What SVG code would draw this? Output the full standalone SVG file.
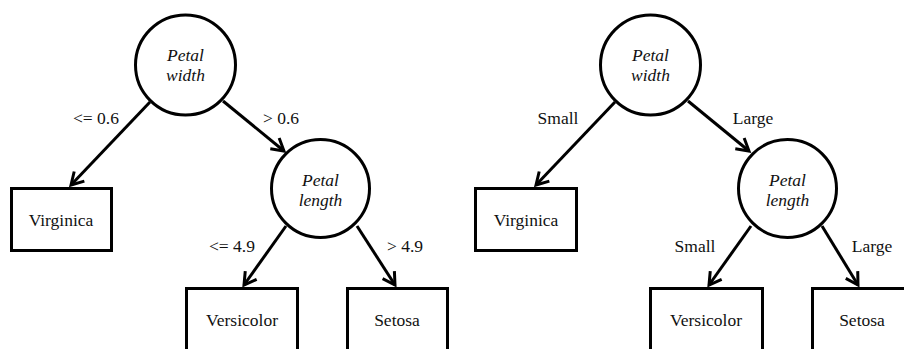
<svg xmlns="http://www.w3.org/2000/svg" width="904" height="349" viewBox="0 0 904 349">
<style>
.c{fill:#fff;stroke:#000;stroke-width:3}
.b{fill:#fff;stroke:#000;stroke-width:3}
.e{stroke:#000;stroke-width:3;fill:none;marker-end:url(#ah)}
text{font-family:'Liberation Serif','Times New Roman',serif;font-size:17.5px;fill:#111;text-anchor:middle}
.i{font-style:italic}
</style>
<defs>
<marker id="ah" markerUnits="userSpaceOnUse" markerWidth="20" markerHeight="20" refX="0" refY="0" viewBox="-14 -10 18 20" orient="auto" overflow="visible">
<path d="M-12,-7 L0,0 L-12,7" fill="none" stroke="#000" stroke-width="3" stroke-linejoin="miter"/>
</marker>
</defs>
<rect width="904" height="349" fill="#fff"/>
<g id="connectors">
<line class="e" x1="150" y1="102" x2="71" y2="185"/>
<line class="e" x1="223" y1="101" x2="284" y2="151"/>
<line class="e" x1="286" y1="226" x2="244" y2="285"/>
<line class="e" x1="357" y1="226" x2="395" y2="285"/>
<line class="e" x1="615" y1="102" x2="536" y2="185"/>
<line class="e" x1="688" y1="101" x2="749" y2="151"/>
<line class="e" x1="751" y1="226" x2="709" y2="285"/>
<line class="e" x1="822" y1="226" x2="858" y2="285"/>
</g>
<g id="labels">
<text x="96" y="124">&lt;= 0.6</text>
<text x="281" y="124">&gt; 0.6</text>
<text x="232" y="252">&lt;= 4.9</text>
<text x="405" y="252">&gt; 4.9</text>
<text x="558" y="124">Small</text>
<text x="753" y="124">Large</text>
<text x="695" y="252">Small</text>
<text x="872" y="252">Large</text>
</g>
<g id="l-root">
<circle class="c" cx="185.5" cy="65" r="50"/>
<text class="i" x="185.5" y="61">Petal</text>
<text class="i" x="185.5" y="81">width</text>
</g>
<g id="l-length">
<circle class="c" cx="320.5" cy="188.5" r="49"/>
<text class="i" x="320.5" y="186">Petal</text>
<text class="i" x="320.5" y="206">length</text>
</g>
<g id="l-virginica">
<rect class="b" x="11.5" y="188.5" width="100" height="62"/>
<text x="61" y="226">Virginica</text>
</g>
<g id="l-versicolor">
<rect class="b" x="186.5" y="288.5" width="111" height="70"/>
<text x="242" y="326">Versicolor</text>
</g>
<g id="l-setosa">
<rect class="b" x="347.5" y="288.5" width="100" height="70"/>
<text x="397" y="326">Setosa</text>
</g>
<g id="r-root">
<circle class="c" cx="650.5" cy="65" r="50"/>
<text class="i" x="650.5" y="61">Petal</text>
<text class="i" x="650.5" y="81">width</text>
</g>
<g id="r-length">
<circle class="c" cx="787.5" cy="188.5" r="49"/>
<text class="i" x="787.5" y="186">Petal</text>
<text class="i" x="787.5" y="206">length</text>
</g>
<g id="r-virginica">
<rect class="b" x="475.5" y="188.5" width="101" height="62"/>
<text x="526" y="226">Virginica</text>
</g>
<g id="r-versicolor">
<rect class="b" x="650.5" y="288.5" width="112" height="70"/>
<text x="706" y="326">Versicolor</text>
</g>
<g id="r-setosa">
<rect class="b" x="812.5" y="288.5" width="100" height="70"/>
<text x="862" y="326">Setosa</text>
</g>
</svg>
